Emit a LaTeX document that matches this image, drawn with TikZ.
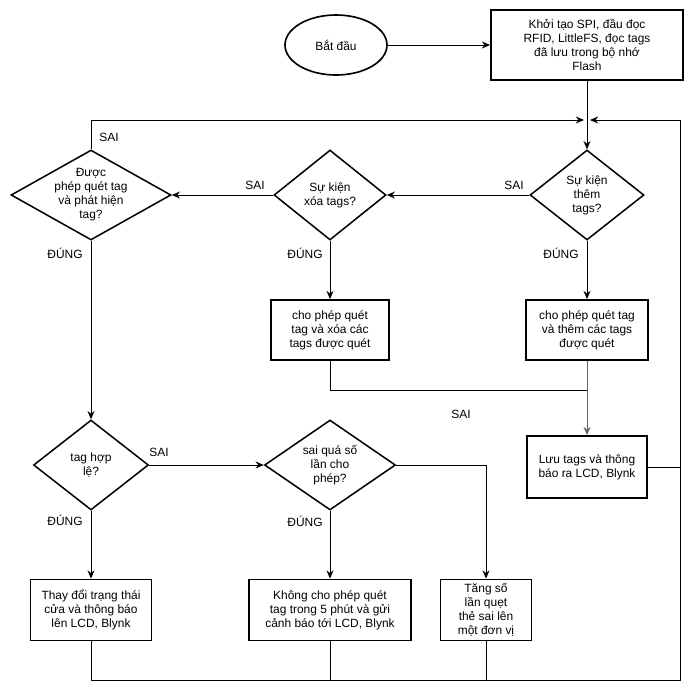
\documentclass[tikz,border=0pt]{standalone}
\usepackage{fontspec}
\setmainfont{Liberation Sans}
\usetikzlibrary{positioning,shapes.geometric,arrows.meta}

\begin{document}
\begin{tikzpicture}[x=0.03cm,y=-0.03cm,
  every node/.style={font=\fontsize{10.2}{11.9}\selectfont,align=center,inner sep=0},
  line/.style={line width=0.8pt},
  arr/.style={line,-{Stealth[length=7pt,width=6pt]}},
  box/.style={draw,line width=1.6pt,minimum height=1.83cm},
  dec/.style={draw,diamond,line width=1.3pt,minimum height=2.7cm}]
\useasboundingbox (0,0) rectangle (691,691);
\node[draw,ellipse,line width=1.4pt,minimum width=3.06cm,minimum height=1.8cm] (start) at (336,45) {Bắt đầu};
\node[box,minimum width=5.76cm,minimum height=2.1cm] (init) at (587,45) {Khởi tạo SPI, đầu đọc\\RFID, LittleFS, đọc tags\\đã lưu trong bộ nhớ\\Flash};
\node[dec,minimum width=3.42cm,label={center:{Sự kiện\\thêm\\tags?}}] (dThem) at (587,195) {};
\node[dec,minimum width=3.36cm,label={center:{Sự kiện\\xóa tags?}}] (dXoa) at (330,195) {};
\node[dec,minimum width=4.8cm,label={center:{Được\\phép quét tag\\và phát hiện\\tag?}}] (dDuoc) at (91,195) {};
\node[box,minimum width=3.54cm,minimum height=1.8cm] (bXoa) at (330,330) {cho phép quét\\tag và xóa các\\tags được quét};
\node[box,minimum width=3.66cm,minimum height=1.8cm] (bThem) at (587,330) {cho phép quét tag\\và thêm các tags\\được quét};
\node[box,minimum width=3.6cm,minimum height=1.86cm] (bLuu) at (587,467) {Lưu tags và thông\\báo ra LCD, Blynk};
\node[dec,minimum width=3.45cm,label={center:{tag hợp\\lệ?}}] (dHop) at (91,465) {};
\node[dec,minimum width=3.93cm,label={center:{sai quá số\\lần cho\\phép?}}] (dSai) at (330,465) {};
\node[box,minimum width=3.63cm] (bThay) at (91,610) {Thay đổi trạng thái\\cửa và thông báo\\lên LCD, Blynk};
\node[box,minimum width=4.86cm] (bKhong) at (330,610) {Không cho phép quét\\tag trong 5 phút và gửi\\cảnh báo tới LCD, Blynk};
\node[box,minimum width=2.73cm] (bTang) at (486,610) {Tăng số\\lần quẹt\\thẻ sai lên\\một đơn vị};
\coordinate (mL) at (584,120);
\coordinate (mR) at (590,120);
\coordinate (cR) at (680,120);
\coordinate (cB) at (680,680);
\coordinate (jX) at (587,390);
\node (sDuoc) at (109,137) {SAI};
\node (sXoa) at (255,185) {SAI};
\node (sThem) at (514,185) {SAI};
\node (dgDuoc) at (65,253) {ĐÚNG};
\node (dgXoa) at (305,253) {ĐÚNG};
\node (dgThem) at (561,253) {ĐÚNG};
\node (sLe) at (461,414) {SAI};
\node (sHop) at (159,452) {SAI};
\node (dgHop) at (65,520) {ĐÚNG};
\node (dgSai) at (305,521) {ĐÚNG};
\draw[arr] (start) -- (init);
\draw[arr] (init) -- (dThem);
\draw[arr] (dDuoc.north) |- (mL);
\draw[line] (bThay.south) |- (cB) -- (cR);
\draw[arr] (cR) -- (mR);
\draw[line] (bKhong.south) -- (bKhong.south |- cB);
\draw[line] (bTang.south) -- (bTang.south |- cB);
\draw[line] (bLuu.east) -- (bLuu.east -| cR);
\draw[arr] (dThem.west) -- (dXoa.east);
\draw[arr] (dXoa.west) -- (dDuoc.east);
\draw[arr] (dThem.south) -- (bThem.north);
\draw[arr] (dXoa.south) -- (bXoa.north);
\draw[line] (bXoa.south) |- (jX);
\draw[arr,black!60] (bThem.south) -- (bLuu.north);
\draw[arr] (dDuoc.south) -- (dHop.north);
\draw[arr] (dHop.east) -- (dSai.west);
\draw[arr] (dHop.south) -- (bThay.north);
\draw[arr] (dSai.south) -- (bKhong.north);
\draw[arr] (dSai.east) -| (bTang.north);
\end{tikzpicture}
\end{document}
